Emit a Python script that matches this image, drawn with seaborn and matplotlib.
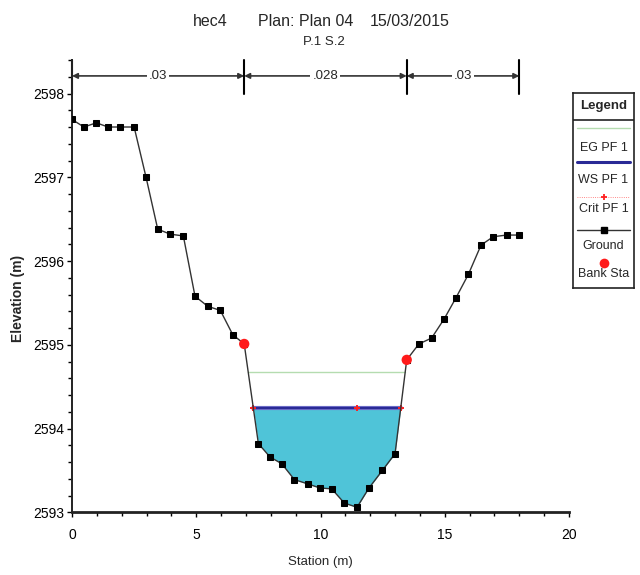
import numpy as np
import pandas as pd
import matplotlib
matplotlib.use("Agg")
import matplotlib.pyplot as plt
import seaborn as sns
from matplotlib import font_manager as fm
from matplotlib.ticker import MultipleLocator

# ---------------- data ----------------
station = [0, 0.48, 0.98, 1.45, 1.95, 2.5, 2.98, 3.45, 3.96, 4.48, 4.95, 5.46,
           5.97, 6.47, 6.93, 7.50, 7.97, 8.44, 8.95, 9.48, 9.98, 10.45, 10.96,
           11.47, 11.95, 12.49, 13.0, 13.47, 13.96, 14.47, 14.98, 15.45, 15.95,
           16.46, 16.95, 17.49, 18.0]
elevation = [2597.69, 2597.60, 2597.65, 2597.60, 2597.60, 2597.60, 2597.0,
             2596.38, 2596.32, 2596.30, 2595.58, 2595.46, 2595.41, 2595.12,
             2595.01, 2593.82, 2593.66, 2593.58, 2593.39, 2593.34, 2593.29,
             2593.28, 2593.11, 2593.06, 2593.29, 2593.50, 2593.70, 2594.82,
             2595.01, 2595.08, 2595.31, 2595.56, 2595.84, 2596.19, 2596.29,
             2596.31, 2596.31]
bank_sta = [6.93, 13.47]
bank_elev = [2595.01, 2594.82]
ws_elev = 2594.25
eg_elev = 2594.68
crit_sta = [7.29, 11.45, 13.23]
n_values = [".03", ".028", ".03"]
n_breaks = [0, 6.93, 13.47, 18]
x_ticks = [0, 5, 10, 15, 20]
y_ticks = [2593, 2594, 2595, 2596, 2597, 2598]

# ---------------- fonts ----------------
names = {f.name for f in fm.fontManager.ttflist}
base = "Liberation Sans Narrow" if "Liberation Sans Narrow" in names else "Liberation Sans"
sns.set_style("ticks")
plt.rcParams["font.family"] = [base, "DejaVu Sans"]

W, H = 640, 575
fig = plt.figure(figsize=(W / 100, H / 100), dpi=100)
L, R, T, B = 72, 569, 60, 512.3
ax = fig.add_axes([L / W, 1 - B / H, (R - L) / W, (B - T) / H])

df = pd.DataFrame({"station": station, "elevation": elevation})
sta = np.array(station)
el = np.array(elevation)


def crossings(level):
    xs = []
    for i in range(len(sta) - 1):
        a, b = el[i] - level, el[i + 1] - level
        if a * b <= 0 and a != b:
            t = a / (a - b)
            xs.append(sta[i] + t * (sta[i + 1] - sta[i]))
    return xs[0], xs[-1]


# water fill
wl, wr = crossings(ws_elev)
inner = (sta > wl) & (sta < wr)
fx = np.concatenate([[wl], sta[inner], [wr]])
fy = np.concatenate([[ws_elev], el[inner], [ws_elev]])
ax.fill_between(fx, fy, ws_elev, color="#4fc4d8", lw=0, zorder=1)

# EG line
el_, er_ = crossings(eg_elev)
ax.plot([el_, er_], [eg_elev, eg_elev], color="#b5dcb0", lw=1.0, zorder=2)

# WS line
ax.plot([wl, wr], [ws_elev, ws_elev], color="#7a7ad0", lw=3.0, zorder=3)
ax.plot([wl, wr], [ws_elev, ws_elev], color="#2a2a96", lw=1.7, zorder=3)

# Crit
ax.plot(crit_sta, [ws_elev] * len(crit_sta), ls="none", marker="+",
        color="#ff2020", ms=5, mew=1.4, zorder=4)

# Ground
sns.lineplot(data=df, x="station", y="elevation", sort=False, estimator=None,
             color="#333333", lw=1.0, marker="s", markersize=4.8,
             markeredgecolor="black", markerfacecolor="black", ax=ax, zorder=5)

# Bank stations
sns.scatterplot(x=bank_sta, y=bank_elev, color="#ff1a1a", s=55, marker="o",
                edgecolor="none", ax=ax, zorder=6)

ax.set_xlim(0, 20)
ax.set_ylim(2593, 2598.4)
ax.set_xticks(x_ticks)
ax.set_yticks(y_ticks)
ax.xaxis.set_minor_locator(MultipleLocator(1))
ax.yaxis.set_minor_locator(MultipleLocator(0.2))
ax.tick_params(which="major", direction="out", length=3.5, width=1, labelsize=10, pad=2,
               colors="black")
ax.tick_params(which="minor", direction="out", length=3, width=1, colors="black")
ax.tick_params(axis="x", pad=8)
ax.set_xticklabels([str(v) for v in x_ticks])
ax.set_yticklabels([str(v) for v in y_ticks])
for s in ["top", "right"]:
    ax.spines[s].set_visible(False)
ax.spines["left"].set_linewidth(1.4)
ax.spines["bottom"].set_linewidth(2.0)
ax.spines["left"].set_color("#222222")
ax.spines["bottom"].set_color("#222222")
ax.set_xlabel("")
ax.set_ylabel("")

# Manning's n brackets
yb = 2598.21
for i in range(len(n_values)):
    a, b = n_breaks[i], n_breaks[i + 1]
    ax.annotate("", xy=(a, yb), xytext=(b, yb),
                arrowprops=dict(arrowstyle="<|-|>", color="#333333", lw=1.2,
                                shrinkA=0, shrinkB=0, mutation_scale=8),
                annotation_clip=False)
    ax.text((a + b) / 2, yb, n_values[i], ha="center", va="center", fontsize=9.5,
            bbox=dict(facecolor="white", edgecolor="none", pad=1.5), zorder=7)
for xb in n_breaks:
    ax.plot([xb, xb], [2598.0, 2598.4], color="black", lw=1.5, clip_on=False)

# titles
fig.text(210 / W, 1 - 22 / H, "hec4", ha="center", va="center", fontsize=11.5)
fig.text(306 / W, 1 - 22 / H, "Plan: Plan 04", ha="center", va="center", fontsize=11.5)
fig.text(410 / W, 1 - 22 / H, "15/03/2015", ha="center", va="center", fontsize=11.5)
fig.text(324 / W, 1 - 42 / H, "P.1 S.2", ha="center", va="center", fontsize=9.5)
fig.text(320 / W, 1 - 562 / H, "Station (m)", ha="center", va="center", fontsize=9.5)
fig.text(18 / W, 1 - 298 / H, "Elevation (m)", ha="center", va="center", fontsize=10,
         rotation=90, fontweight="bold")

# legend box (pixel coordinates)
lx0, lx1, ly0, ly1 = 573, 634, 93, 288
lax = fig.add_axes([lx0 / W, 1 - ly1 / H, (lx1 - lx0) / W, (ly1 - ly0) / H])
lax.set_xlim(lx0, lx1)
lax.set_ylim(ly1, ly0)
lax.set_xticks([])
lax.set_yticks([])
for s in lax.spines.values():
    s.set_linewidth(1.2)
    s.set_color("#222222")
lax.axhline(119.5, color="#222222", lw=1.2)
cx = (lx0 + lx1) / 2
lax.text(cx, 106, "Legend", ha="center", va="center", fontsize=9.5, fontweight="bold")
lax.plot([577, 630], [127.7, 127.7], color="#b5dcb0", lw=1.0)
lax.text(cx, 148, "EG PF 1", ha="center", va="center", fontsize=9)
lax.plot([577, 630], [162, 162], color="#2a2a96", lw=2.2)
lax.text(cx, 180, "WS PF 1", ha="center", va="center", fontsize=9)
lax.plot([577, 630], [196.7, 196.7], color="#ff6060", lw=0.6, ls=":")
lax.plot([cx], [196.7], marker="+", color="#ff2020", ms=5, mew=1.3)
lax.text(cx, 208.5, "Crit PF 1", ha="center", va="center", fontsize=9)
lax.plot([577, 630], [230, 230], color="#333333", lw=1.0)
lax.plot([cx], [230], marker="s", color="black", ms=4.8)
lax.text(cx, 246, "Ground", ha="center", va="center", fontsize=9)
lax.plot([cx], [262.5], marker="o", color="#ff1a1a", ms=7, mec="none")
lax.text(cx, 274, "Bank Sta", ha="center", va="center", fontsize=9)

fig.savefig("out.png", dpi=100)
